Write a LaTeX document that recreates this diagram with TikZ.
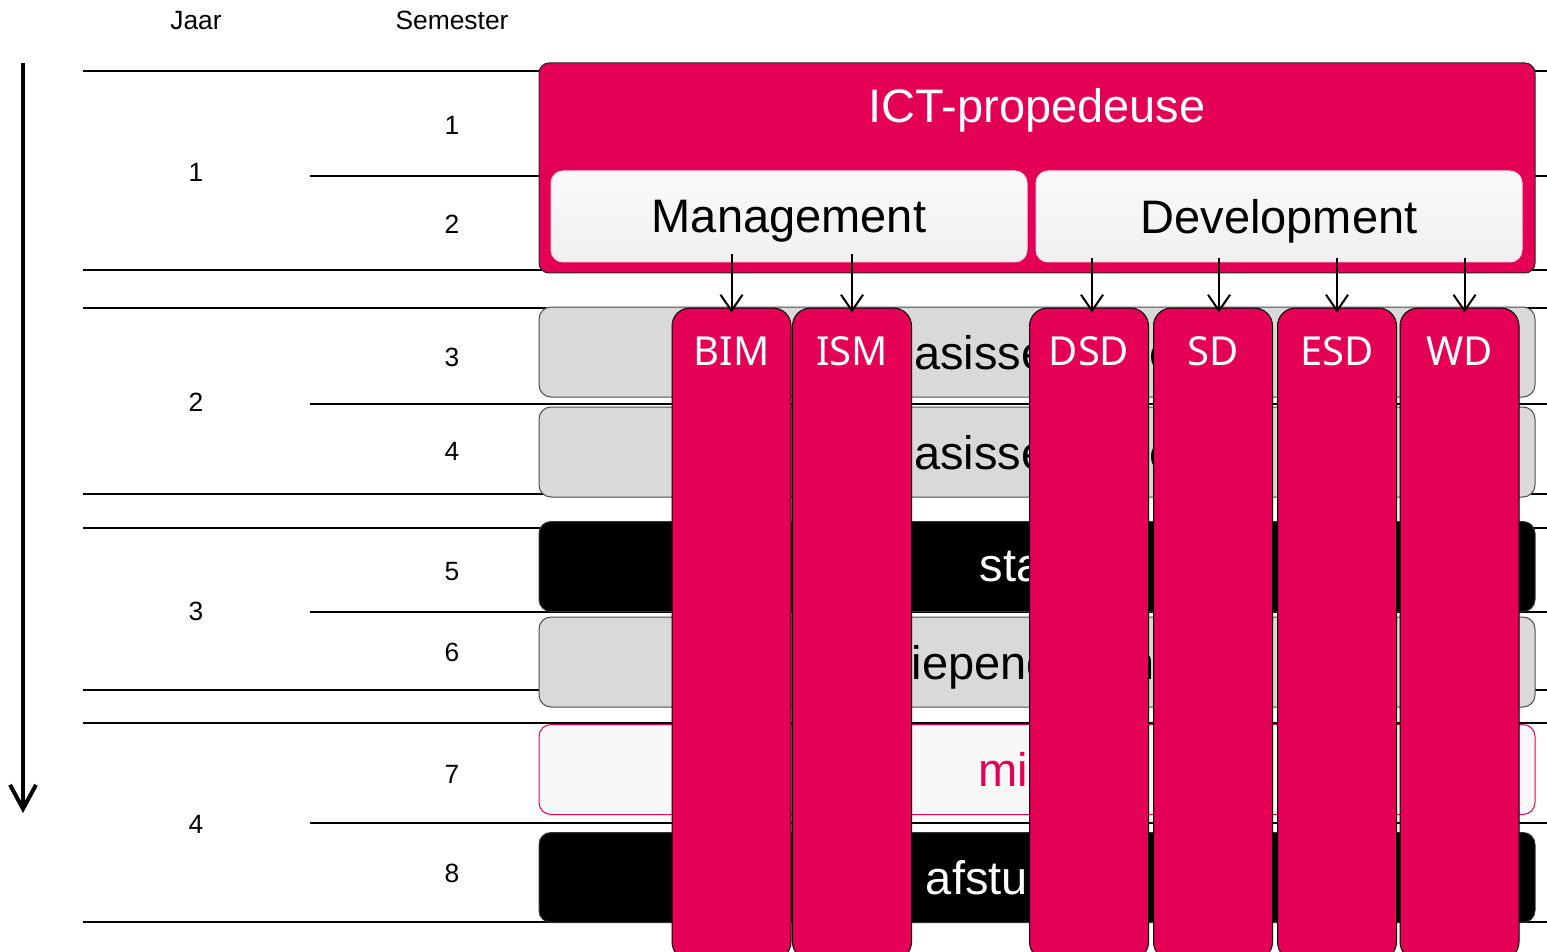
\documentclass[tikz,border=0pt]{standalone}
\usepackage{fontspec}
\setmainfont{Liberation Sans}
\newfontfamily\specfont{Noto Sans}
\usetikzlibrary{arrows.meta}

\definecolor{ictpink}{HTML}{E30055}
\definecolor{rijgrijs}{HTML}{D9D9D9}
\definecolor{minorwit}{HTML}{F7F7F7}

\tikzset{
  kop/.style={font=\fontsize{13.2}{15}\selectfont, inner sep=0pt, text depth=0pt},
  grens/.style={line width=1pt},
  rij/.style={rounded corners=6pt, minimum width=498pt, minimum height=45pt, inner sep=0pt,
    text depth=0pt, font=\fontsize{23.5}{28}\selectfont},
  grijs/.style={rij, fill=rijgrijs, draw=black!70, line width=0.5pt},
  zwart/.style={rij, fill=black, draw=black!80, line width=0.5pt, text=white},
  minor/.style={rij, fill=minorwit, draw=ictpink, line width=0.5pt, text=ictpink},
  richting/.style={rounded corners=6pt, minimum width=238pt, minimum height=45.5pt, inner sep=0pt,
    top color=white!98!black, bottom color=black!6, draw=black!12, line width=0.5pt,
    text depth=0pt, font=\fontsize{23.5}{28}\selectfont},
  spec/.style={fill=ictpink, draw=black, line width=0.5pt, rounded corners=9pt,
    minimum width=59.5pt, minimum height=326pt, inner sep=0pt},
  speclabel/.style={text=white, inner sep=0pt, text depth=0pt, font=\specfont\fontsize{20}{24}\selectfont},
  pijl/.style={->, line width=1pt, shorten >=-2.5pt}
}

\begin{document}
\begin{tikzpicture}[x=0.5pt, y=-0.5pt, >={Straight Barb[length=8pt,width=11pt]}]
        \useasboundingbox (0,0) rectangle (1547,952);

        % koppen
        \node [kop] (jaar) at (196,20) {Jaar};
        \node [kop] (semester) at (452,20) {Semester};

        % tijdlijn
        \coordinate (tstart) at (23,63);
        \coordinate (teind) at (23,813);
        \draw [line width=2pt, -{Straight Barb[length=12pt,width=13pt]}] (tstart) -- (teind);

        % jaar- en semestergrenzen
        \draw [grens] (83,71) -- (1547,71);
        \draw [grens] (310,176) -- (1547,176);
        \draw [grens] (83,270) -- (1547,270);
        \draw [grens] (83,308) -- (1547,308);
        \draw [grens] (310,404) -- (1547,404);
        \draw [grens] (83,494) -- (1547,494);
        \draw [grens] (83,528) -- (1547,528);
        \draw [grens] (310,612) -- (1547,612);
        \draw [grens] (83,690) -- (1547,690);
        \draw [grens] (83,723) -- (1547,723);
        \draw [grens] (310,823) -- (1547,823);
        \draw [grens] (83,922) -- (1547,922);

        \node [kop] (jaar1) at (196,172) {1};
        \node [kop] (jaar2) at (196,402) {2};
        \node [kop] (jaar3) at (196,611) {3};
        \node [kop] (jaar4) at (196,824) {4};

        \node [kop] (sem1) at (452,125) {1};
        \node [kop] (sem2) at (452,224) {2};
        \node [kop] (sem3) at (452,357) {3};
        \node [kop] (sem4) at (452,451) {4};
        \node [kop] (sem5) at (452,571) {5};
        \node [kop] (sem6) at (452,652) {6};
        \node [kop] (sem7) at (452,774) {7};
        \node [kop] (sem8) at (452,873) {8};

        % propedeuse
        \node [fill=ictpink, draw=black!85, line width=0.5pt, rounded corners=5pt,
               minimum width=498pt, minimum height=105pt, inner sep=0pt] (prop) at (1037,168) {};
        \node [text=white, inner sep=0pt, text depth=0pt, font=\fontsize{23.5}{28}\selectfont] (proptitel) at (1037,105) {ICT-propedeuse};
        \node [richting] (mgmt) at (789,216.5) {Management};
        \node [richting, minimum width=243pt] (dev) at (1279,216.5) {Development};

        % semesters 3 t/m 8
        \node [grijs] (rij3) at (1037,352) {Basissemester};
        \node [grijs] (rij4) at (1037,452) {Basissemester};
        \node [zwart] (rij5) at (1037,566.5) {stage};
        \node [grijs] (rij6) at (1037,662) {Verdiepend semester};
        \node [minor] (rij7) at (1037,769.5) {minor};
        \node [zwart] (rij8) at (1037,877.5) {afstuderen};

        % specialisaties
        \node [spec] (bim) at (731.5,634) {};
        \node [spec] (ism) at (852,634) {};
        \node [spec] (dsd) at (1089,634) {};
        \node [spec] (sd) at (1213,634) {};
        \node [spec] (esd) at (1337,634) {};
        \node [spec] (wd) at (1459.5,634) {};

        \node [speclabel] (bimtxt) at (731.5,351) {BIM};
        \node [speclabel] (ismtxt) at (852,351) {ISM};
        \node [speclabel] (dsdtxt) at (1089,351) {DSD};
        \node [speclabel] (sdtxt) at (1213,351) {SD};
        \node [speclabel] (esdtxt) at (1337,351) {ESD};
        \node [speclabel] (wdtxt) at (1459.5,351) {WD};

        \draw [pijl] ([yshift=4pt]bim.north |- mgmt.south) -- (bim.north);
        \draw [pijl] ([yshift=4pt]ism.north |- mgmt.south) -- (ism.north);
        \draw [pijl] ([xshift=1.5pt,yshift=2pt]dsd.north |- dev.south) -- ([xshift=1.5pt]dsd.north);
        \draw [pijl] ([xshift=3pt,yshift=2pt]sd.north |- dev.south) -- ([xshift=3pt]sd.north);
        \draw [pijl] ([yshift=2pt]esd.north |- dev.south) -- (esd.north);
        \draw [pijl] ([xshift=2.5pt,yshift=2pt]wd.north |- dev.south) -- ([xshift=2.5pt]wd.north);
    \end{tikzpicture}
\end{document}
